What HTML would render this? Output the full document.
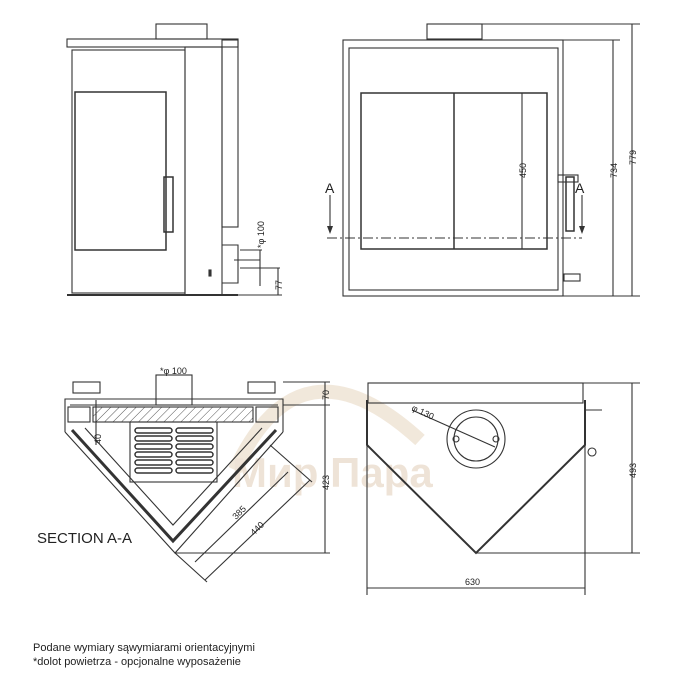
<!DOCTYPE html>
<html><head><meta charset="utf-8"><style>
html,body{margin:0;padding:0;background:#fff}
svg{display:block}
text{font-family:"Liberation Sans",sans-serif;fill:#222}
</style></head><body>
<svg width="700" height="700" viewBox="0 0 700 700" xmlns="http://www.w3.org/2000/svg">
<defs>
<pattern id="h" width="6" height="6" patternUnits="userSpaceOnUse" patternTransform="rotate(45)">
<line x1="0" y1="0" x2="0" y2="6" stroke="#555" stroke-width="1"/></pattern>
</defs>
<g opacity="0.3">
<path d="M235 470 Q300 330 420 440" fill="none" stroke="#d4b48c" stroke-width="14"/>
<text x="232" y="487" font-size="42" font-weight="bold" style="fill:#c9a57c">Мир Пара</text>
</g>
<g fill="none" stroke="#333" stroke-width="1.1">
<rect x="156" y="24" width="51" height="15"/>
<rect x="67" y="39" width="171" height="8"/>
<rect x="72" y="50" width="113" height="243"/>
<rect x="75" y="92" width="91" height="158" stroke-width="1.5"/>
<rect x="185" y="47" width="37" height="248"/>
<rect x="222" y="40" width="16" height="187"/>
<path d="M222 227 L238 227 M222 245 H238 V283 H222 M234 260 H260 M240 250 H262 M240 268 H280"/>
<line x1="67" y1="295" x2="238" y2="295" stroke-width="2"/>
<rect x="164" y="177" width="9" height="55" stroke-width="1.5"/>
<line x1="260" y1="250" x2="260" y2="286"/>
<line x1="278" y1="268" x2="278" y2="295"/>
<line x1="238" y1="295" x2="282" y2="295"/>
<rect x="209" y="270" width="2" height="6" fill="#333"/>
<rect x="427" y="24" width="55" height="15"/>
<rect x="343" y="40" width="220" height="256"/>
<rect x="349" y="48" width="209" height="242"/>
<rect x="361" y="93" width="186" height="156" stroke-width="1.5"/>
<line x1="454" y1="93" x2="454" y2="249" stroke-width="1.5"/>
<line x1="522" y1="93" x2="522" y2="249"/>
<line x1="327" y1="238" x2="582" y2="238" stroke-dasharray="10,3,2,3"/>
<line x1="330" y1="195" x2="330" y2="232"/>
<line x1="582" y1="195" x2="582" y2="232"/>
<rect x="566" y="177" width="8" height="54" stroke-width="1.5"/>
<rect x="558" y="175" width="20" height="7"/>
<rect x="564" y="274" width="16" height="7"/>
<line x1="482" y1="24" x2="640" y2="24"/>
<line x1="563" y1="40" x2="620" y2="40"/>
<line x1="563" y1="296" x2="640" y2="296"/>
<line x1="613" y1="40" x2="613" y2="296"/>
<line x1="632" y1="24" x2="632" y2="296"/>
<rect x="73" y="382" width="27" height="11"/>
<rect x="248" y="382" width="27" height="11"/>
<rect x="156" y="375" width="36" height="30"/>
<path d="M65 432 V399 H283 V432 M70 405 H278"/>
<rect x="93" y="407" width="160" height="15" fill="url(#h)"/>
<rect x="68" y="407" width="22" height="15"/>
<rect x="256" y="407" width="22" height="15"/>
<path d="M65 432 L175 553 L283 432"/>
<path d="M72 430 L173 541 L276 430" stroke-width="3"/>
<path d="M85 428 L173 525 L262 428"/>
<rect x="130" y="422" width="87" height="60"/>
<g stroke-width="1.5">
<rect x="135" y="428" width="37" height="5" rx="2.5"/><rect x="176" y="428" width="37" height="5" rx="2.5"/>
<rect x="135" y="436" width="37" height="5" rx="2.5"/><rect x="176" y="436" width="37" height="5" rx="2.5"/>
<rect x="135" y="444" width="37" height="5" rx="2.5"/><rect x="176" y="444" width="37" height="5" rx="2.5"/>
<rect x="135" y="452" width="37" height="5" rx="2.5"/><rect x="176" y="452" width="37" height="5" rx="2.5"/>
<rect x="135" y="460" width="37" height="5" rx="2.5"/><rect x="176" y="460" width="37" height="5" rx="2.5"/>
<rect x="135" y="468" width="37" height="5" rx="2.5"/><rect x="176" y="468" width="37" height="5" rx="2.5"/>
</g>
<line x1="283" y1="382" x2="330" y2="382"/>
<line x1="283" y1="405" x2="330" y2="405"/>
<line x1="175" y1="553" x2="330" y2="553"/>
<line x1="325" y1="382" x2="325" y2="553"/>
<line x1="288" y1="472" x2="195" y2="562"/>
<line x1="310" y1="480" x2="205" y2="580"/>
<line x1="270" y1="445" x2="312" y2="482"/>
<line x1="175" y1="553" x2="207" y2="582"/>
<line x1="96" y1="400" x2="96" y2="445"/>
<rect x="368" y="383" width="215" height="20"/>
<path d="M367 400 V445 L476 553 L585 445 V400" stroke-width="2"/>
<circle cx="476" cy="439" r="29"/>
<circle cx="476" cy="439" r="22"/>
<circle cx="456" cy="439" r="3"/><circle cx="496" cy="439" r="3"/>
<line x1="412" y1="410" x2="495" y2="447"/>
<line x1="585" y1="410" x2="602" y2="410"/>
<circle cx="592" cy="452" r="4"/>
<line x1="583" y1="383" x2="640" y2="383"/>
<line x1="476" y1="553" x2="640" y2="553"/>
<line x1="632" y1="383" x2="632" y2="553"/>
<line x1="367" y1="445" x2="367" y2="595"/>
<line x1="585" y1="445" x2="585" y2="595"/>
<line x1="367" y1="588" x2="585" y2="588"/>
</g>
<g fill="#333">
<path d="M327 226 L333 226 L330 234 Z"/>
<path d="M579 226 L585 226 L582 234 Z"/>
</g>
<g font-size="9">
<text transform="translate(526,178) rotate(-90)">450</text>
<text transform="translate(617,178) rotate(-90)">734</text>
<text transform="translate(636,165) rotate(-90)">779</text>
<text transform="translate(264,248) rotate(-90)">*φ 100</text>
<text transform="translate(282,290) rotate(-90)">77</text>
<text x="160" y="374">*φ 100</text>
<text transform="translate(329,400) rotate(-90)">70</text>
<text transform="translate(329,490) rotate(-90)">423</text>
<text transform="translate(101,444) rotate(-90)">40</text>
<text transform="translate(236,520) rotate(-45)">385</text>
<text transform="translate(254,536) rotate(-45)">440</text>
<text transform="translate(411,410) rotate(25)">φ 130</text>
<text transform="translate(636,478) rotate(-90)">493</text>
<text x="465" y="585">630</text>
</g>
<text x="325" y="193" font-size="14">A</text>
<text x="575" y="193" font-size="14">A</text>
<text x="37" y="543" font-size="15">SECTION A-A</text>
<text x="33" y="651" font-size="11">Podane wymiary sąwymiarami orientacyjnymi</text>
<text x="33" y="665" font-size="11">*dolot powietrza - opcjonalne wyposażenie</text>
</svg>
</body></html>
